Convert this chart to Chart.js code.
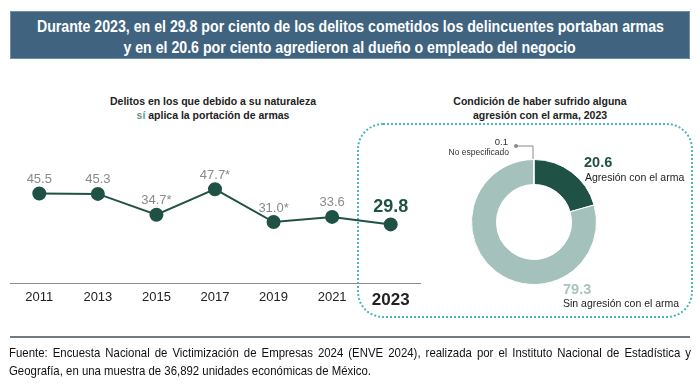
<!DOCTYPE html>
<html>
<head>
<meta charset="utf-8">
<script src="https://cdn.jsdelivr.net/npm/chart.js@4"></script>
<style>
  html, body { margin: 0; padding: 0; background: #fff; }
  #page { position: relative; width: 700px; height: 390px; overflow: hidden; font-family: "Liberation Sans", Arial, sans-serif; }
  #banner {
    position: absolute; left: 10px; top: 11px; width: 680px; height: 48px;
    background: #40647f; border: 1px solid #6d8ea3; box-sizing: border-box; overflow: hidden;
  }
  .tline {
    position: absolute; left: -200px; width: 1078px; text-align: center; white-space: nowrap;
    color: #fff; font-weight: bold; font-size: 16.5px; line-height: 20px;
  }
  .tline span { display: inline-block; transform-origin: center; }
  .subtitle { position: absolute; font-weight: bold; font-size: 10.5px; line-height: 14px; color: #222; text-align: center; }
  #box {
    position: absolute; left: 357px; top: 123px; width: 336px; height: 195px; box-sizing: border-box;
    border: 2.5px dotted #4fb6b6; border-radius: 26px;
  }
  .lbl { position: absolute; white-space: nowrap; }
  #footLine { position: absolute; left: 10px; top: 336px; width: 680px; height: 2px; background: #6e7c87; }
  .fline {
    position: absolute; left: 9px; white-space: nowrap; transform-origin: left center;
    font-size: 13px; line-height: 18px; color: #111;
  }
  canvas { position: absolute; }
</style>
</head>
<body>
<div id="page">
  <div id="banner">
    <div class="tline" style="top:4px;"><span id="t1">Durante 2023, en el 29.8 por ciento de los delitos cometidos los delincuentes portaban armas</span></div>
    <div class="tline" style="top:25px;"><span id="t2">y en el 20.6 por ciento agredieron al dueño o empleado del negocio</span></div>
  </div>

  <div class="subtitle" style="left:63px; top:94px; width:300px;">Delitos en los que debido a su naturaleza<br><span style="color:#5e9b8c">sí</span> aplica la portación de armas</div>
  <div class="subtitle" style="left:390px; top:94px; width:300px;">Condición de haber sufrido alguna<br>agresión con el arma, 2023</div>

  <div id="box"></div>

  <canvas id="lineChart" width="700" height="390" style="left:0; top:0; width:700px; height:390px;"></canvas>
  <canvas id="donutChart" width="126" height="126" style="left:471px; top:159px; width:126px; height:126px;"></canvas>

  <svg width="700" height="390" style="position:absolute; left:0; top:0;">
    <circle cx="516" cy="146" r="2" fill="#8a8a8a"></circle>
    <polyline points="516,146 533,146 533,159" fill="none" stroke="#8a8a8a" stroke-width="1"></polyline>
  </svg>

  <div class="lbl" id="lblNs1" style="left:486px; top:136px; font-size:9.5px; color:#333; text-align:right; width:22px;"></div>
  <div class="lbl" id="lblNs2" style="left:420px; top:147px; font-size:8.5px; color:#333; text-align:right; width:89px;"></div>
  <div class="lbl" id="lblAg1" style="left:584px; top:154px; font-size:14.5px; font-weight:bold; color:#1f5245;"></div>
  <div class="lbl" id="lblAg2" style="left:585px; top:171px; font-size:10.5px; color:#222;"></div>
  <div class="lbl" id="lblSin1" style="left:563px; top:281px; font-size:14.5px; font-weight:bold; color:#a9c5bf;"></div>
  <div class="lbl" id="lblSin2" style="left:563px; top:297px; font-size:10.5px; color:#222;"></div>

  <div id="footLine"></div>
  <div class="fline" id="f1" style="top:344px;"></div>
  <div class="fline" id="f2" style="top:362px;">Geografía, en una muestra de 36,892 unidades económicas de México.</div>
</div>

<script>
// Line chart data: crimes where carrying weapons applies
const years = ['2011', '2013', '2015', '2017', '2019', '2021', '2023'];
const armedPct = [45.5, 45.3, 34.7, 47.7, 31.0, 33.6, 29.8];
const significant = [false, false, true, true, true, false, false]; // the '*' marks

// Doughnut data: aggression with the weapon, 2023
const aggLabels = ['Agresión con el arma', 'Sin agresión con el arma', 'No especificado'];
const aggValues = [20.6, 79.3, 0.1];

const darkGreen = '#1f5245';
const lightGreen = '#a4c2bb';
const font = '"Liberation Sans", Arial, sans-serif';

// squeeze the title lines to look like a narrow font
const t1 = document.getElementById('t1');
const t2 = document.getElementById('t2');
const titleScale = 627 / t1.getBoundingClientRect().width;
t1.style.transform = 'scaleX(' + titleScale + ')';
t2.style.transform = 'scaleX(' + titleScale + ')';

// footer: second line sets the squeeze, first line is justified to full width
const f2 = document.getElementById('f2');
const footScale = 362 / f2.getBoundingClientRect().width;
f2.style.transform = 'scaleX(' + footScale + ')';
const f1 = document.getElementById('f1');
const words = 'Fuente: Encuesta Nacional de Victimización de Empresas 2024 (ENVE 2024), realizada por el Instituto Nacional de Estadística y'.split(' ');
f1.textContent = words.join(' ');
const natural = f1.getBoundingClientRect().width;
const extra = (682 / footScale - natural) / (words.length - 1);
f1.style.wordSpacing = extra + 'px';
f1.style.transform = 'scaleX(' + footScale + ')';

// draws the number above each point
const valueLabels = {
  id: 'valueLabels',
  afterDatasetsDraw(chart) {
    const ctx = chart.ctx;
    const meta = chart.getDatasetMeta(0);
    meta.data.forEach((pt, i) => {
      const last = i === years.length - 1;
      const txt = armedPct[i].toFixed(1) + (significant[i] ? '*' : '');
      ctx.save();
      ctx.font = last ? 'bold 18px ' + font : '13px ' + font;
      ctx.fillStyle = last ? darkGreen : '#8a8a8a';
      ctx.textAlign = 'center';
      ctx.textBaseline = 'middle';
      ctx.fillText(txt, pt.x, pt.y - (last ? 17 : 14));
      ctx.restore();
    });
  }
};

new Chart(document.getElementById('lineChart'), {
  type: 'line',
  data: {
    labels: years,
    datasets: [{
      data: armedPct,
      borderColor: darkGreen,
      borderWidth: 2,
      pointRadius: 6,
      pointBackgroundColor: darkGreen,
      pointBorderColor: darkGreen,
      tension: 0
    }]
  },
  options: {
    responsive: false,
    animation: false,
    layout: { padding: { left: 10, right: 280, top: 165, bottom: 77 } },
    plugins: { legend: { display: false }, tooltip: { enabled: false } },
    scales: {
      x: {
        offset: true,
        grid: { display: false, drawTicks: false },
        border: { display: true, color: '#8c8c8c', width: 1 },
        ticks: {
          padding: 7,
          color: '#222',
          font: (c) => c.index === years.length - 1
            ? { family: font, size: 17, weight: 'bold' }
            : { family: font, size: 13 }
        },
        afterFit: (scale) => { scale.height = 30; }
      },
      y: { display: false, min: 0, max: 60 }
    }
  },
  plugins: [valueLabels]
});

new Chart(document.getElementById('donutChart'), {
  type: 'doughnut',
  data: {
    labels: aggLabels,
    datasets: [{
      data: aggValues,
      backgroundColor: [darkGreen, lightGreen, '#9a9a9a'],
      borderColor: '#fff',
      borderWidth: 1
    }]
  },
  options: {
    responsive: false,
    animation: false,
    cutout: '60%',
    plugins: { legend: { display: false }, tooltip: { enabled: false } }
  }
});

document.getElementById('lblAg1').textContent = aggValues[0].toFixed(1);
document.getElementById('lblAg2').textContent = aggLabels[0];
document.getElementById('lblSin1').textContent = aggValues[1].toFixed(1);
document.getElementById('lblSin2').textContent = aggLabels[1];
document.getElementById('lblNs1').textContent = aggValues[2].toFixed(1);
document.getElementById('lblNs2').textContent = aggLabels[2];
</script>
</body>
</html>
